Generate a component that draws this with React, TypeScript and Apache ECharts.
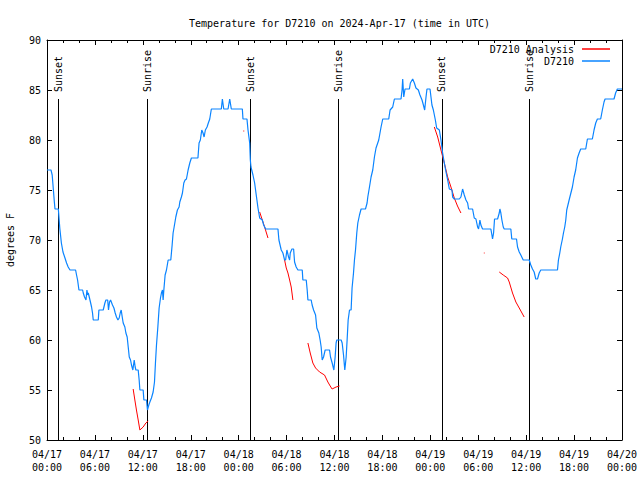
import React, { useEffect, useRef } from 'react';
import * as echarts from 'echarts';

// ---- data (hours since 2024-04-17 00:00 UTC, degrees F) ----
const stationTemps: [number, number][] = [
  [0, 77], [0.5, 77], [0.65, 76.5], [0.8, 75], [0.92, 73.8], [1.0, 73.1], [1.42, 73.1], [1.6, 71.2], [1.8, 69.7],
  [2.0, 68.8], [2.25, 68.2], [2.45, 67.7], [2.65, 67.3], [2.88, 67], [3.58, 67], [3.7, 66.5], [3.83, 66], [4.0, 65],
  [4.46, 65], [4.54, 64.7], [4.7, 64.3], [4.88, 64], [5.0, 65], [5.1, 64.5], [5.17, 64.7], [5.38, 64], [5.58, 63.3],
  [5.7, 62.7], [5.79, 62], [6.42, 62], [6.5, 63], [7.04, 63], [7.25, 63.7], [7.38, 64], [7.6, 64], [7.7, 63],
  [7.83, 63.8], [7.96, 64], [8.2, 63.5], [8.38, 63.2], [8.54, 62.7], [8.7, 62.3], [8.88, 62], [9.04, 62.2],
  [9.17, 62.7], [9.29, 63], [9.42, 62.3], [9.54, 61.7], [9.75, 61.3], [9.88, 60.7], [10.04, 60.3], [10.17, 59.3],
  [10.3, 58.3], [10.46, 58], [10.58, 57.5], [10.75, 57], [10.92, 58], [11.04, 57.3], [11.13, 57], [11.42, 57],
  [11.54, 56], [11.63, 55], [12.04, 55], [12.13, 54], [12.46, 54], [12.58, 53], [12.75, 53.5], [12.88, 53.8],
  [13.08, 54.2], [13.29, 54.8], [13.46, 55.8], [13.58, 57.7], [13.71, 59.5], [13.88, 61.3], [14.04, 63.2],
  [14.21, 64.2], [14.33, 64.7], [14.46, 65], [14.54, 64], [14.63, 65], [14.79, 66.5], [14.96, 67], [15.17, 68],
  [15.5, 68], [15.67, 69.5], [15.79, 70.7], [15.92, 71.3], [16.13, 72.3], [16.33, 73], [16.54, 73.3], [16.63, 73.8],
  [16.83, 74.3], [16.96, 74.7], [17.13, 75.7], [17.29, 76], [17.46, 76.1], [17.67, 77], [17.88, 77.7], [18.08, 78.2],
  [18.9, 78.2], [19.04, 79.7], [19.2, 80], [19.38, 81], [19.54, 80.7], [19.67, 80.3], [19.83, 81], [20.04, 81.3],
  [20.2, 81.7], [20.38, 82.1], [20.58, 83.1], [21.83, 83.1], [21.96, 84.1], [22.13, 83.1], [22.67, 83.1],
  [22.88, 84.1], [23.08, 83.1], [24.46, 83.1], [24.54, 82.1], [25.04, 82.1], [25.17, 81], [25.38, 79.7],
  [25.46, 78], [25.54, 77.3], [25.79, 76.5], [26.0, 75.7], [26.2, 74.5], [26.42, 73.2], [26.63, 72.2], [26.96, 72],
  [27.13, 71.5], [27.38, 71.1], [28.92, 71.1], [29.04, 70], [29.33, 69], [29.54, 68.7], [29.75, 68], [29.88, 68],
  [30.04, 69], [30.25, 68.3], [30.38, 68], [30.46, 68.7], [30.67, 69.1], [30.88, 69.1], [31.0, 67.8], [31.2, 67.3],
  [31.42, 67], [31.96, 67], [32.04, 66], [32.46, 66], [32.58, 65], [32.67, 64], [33.08, 64], [33.2, 63.5],
  [33.38, 63], [33.63, 62.5], [33.79, 61.2], [34.04, 60.7], [34.2, 60], [34.33, 59.3], [34.46, 58], [34.63, 58.3],
  [34.83, 59], [35.38, 59], [35.5, 58.3], [35.71, 57.7], [35.92, 57], [36.08, 58.3], [36.2, 59.7], [36.29, 60],
  [36.83, 60], [36.96, 59.7], [37.13, 58.5], [37.29, 57], [37.46, 58.3], [37.58, 60], [37.71, 62], [37.88, 63],
  [38.08, 63], [38.2, 65.2], [38.38, 66.7], [38.5, 68], [38.63, 69], [38.79, 70.7], [38.92, 71.7], [39.13, 72.5],
  [39.33, 73.1], [39.88, 73.1], [40.08, 73.7], [40.17, 74.3], [40.38, 75.3], [40.58, 76.3], [40.79, 77], [41.0, 78.3],
  [41.2, 79.2], [41.54, 80], [41.83, 81.3], [42.04, 82.1], [42.79, 82.1], [42.96, 83], [43.29, 83.3], [43.5, 84.1],
  [44.33, 84.1], [44.46, 85], [44.54, 86.1], [44.67, 84.3], [44.83, 85.1], [45.38, 85.1], [45.5, 85.7],
  [45.79, 86.1], [46.0, 85.7], [46.2, 85.2], [46.5, 85], [46.7, 84.5], [46.96, 84], [47.13, 83.5], [47.29, 83],
  [47.46, 84.3], [47.58, 85.1], [47.96, 85.1], [48.08, 84.3], [48.2, 83.5], [48.38, 83], [48.63, 82], [48.79, 81.2],
  [49.13, 81], [49.33, 80], [49.54, 78.7], [49.75, 77.7], [49.96, 76.8], [50.17, 76], [50.38, 75.1], [50.71, 75],
  [50.79, 74.3], [51.0, 74.1], [51.63, 74.1], [51.83, 74.3], [52.04, 75.1], [52.25, 74.5], [52.46, 74], [52.67, 73.7],
  [52.79, 73.1], [53.29, 73.1], [53.5, 72.2], [53.71, 72.1], [53.92, 71.3], [54.04, 71.1], [54.21, 72], [54.33, 71.5],
  [54.54, 71.1], [55.58, 71.1], [55.71, 70.5], [55.79, 70.1], [55.92, 70.7], [56.04, 72.1], [56.42, 72.1],
  [56.63, 72.7], [56.71, 73.1], [56.83, 72.7], [56.96, 72], [57.13, 71.3], [57.25, 71.1], [58.08, 71.1], [58.2, 70.1],
  [58.79, 70.1], [58.92, 69.3], [59.13, 68.8], [59.33, 68.5], [59.63, 68], [60.38, 68], [60.58, 67.5], [60.79, 67.1],
  [61.0, 66.8], [61.2, 66.1], [61.42, 66.1], [61.63, 66.7], [61.83, 67], [63.92, 67], [64.04, 68], [64.21, 68.7],
  [64.33, 69.3], [64.54, 70.1], [64.67, 70.7], [64.83, 71.3], [64.96, 72], [65.08, 73], [65.38, 74], [65.6, 74.7],
  [65.79, 75.3], [66.0, 76.3], [66.2, 77], [66.42, 78.2], [66.63, 78.7], [66.83, 79.1], [67.46, 79.1], [67.67, 80.1],
  [68.29, 80.1], [68.5, 81], [68.71, 81.7], [68.92, 82.1], [69.33, 82.1], [69.54, 83], [69.75, 83.8], [69.88, 84.1],
  [71.0, 84.1], [71.2, 84.7], [71.42, 85.1], [72, 85.1],
];

const analysisSegments: [number, number][][] = [
  [[10.79, 55.1], [11.0, 54], [11.2, 53], [11.42, 52], [11.63, 51], [12.04, 51.3], [12.38, 51.7], [12.67, 51.9]],
  [[24.58, 80.9], [24.7, 80.9]],
  [[26.63, 72.8], [26.96, 72], [27.25, 71.3], [27.67, 70.2]],
  [[29.75, 68], [29.96, 67.2], [30.17, 66.7], [30.38, 66], [30.58, 65.3], [30.79, 64]],
  [[32.67, 59.7], [32.96, 58.7], [33.29, 57.7], [33.63, 57.2], [34.13, 56.8], [34.75, 56.5], [35.17, 55.8],
    [35.46, 55.4], [35.7, 55.1], [36.2, 55.3], [36.63, 55.4]],
  [[48.5, 81.3], [48.92, 80.3], [49.33, 79], [49.75, 77.7], [50.17, 76.3], [50.58, 75.3], [51.0, 74.2],
    [51.4, 73.4], [51.83, 72.7]],
  [[54.7, 68.7], [54.8, 68.7]],
  [[56.63, 66.8], [57.13, 66.5], [57.67, 66.2], [57.88, 65.8], [58.29, 64.7], [58.71, 63.8], [59.13, 63.2], [59.75, 62.3]],
];

const sunEvents: { name: string; hour: number }[] = [
  { name: 'Sunset', hour: 1.43 },
  { name: 'Sunrise', hour: 12.55 },
  { name: 'Sunset', hour: 25.45 },
  { name: 'Sunrise', hour: 36.45 },
  { name: 'Sunset', hour: 49.45 },
  { name: 'Sunrise', hour: 60.42 },
];

const TITLE = 'Temperature for D7210 on 2024-Apr-17 (time in UTC)';
const SERIES_STATION = 'D7210';
const SERIES_ANALYSIS = 'D7210 Analysis';

// ---- styles ----
const FONT = 'DejaVu Sans Mono';
const BLUE = '#0a84ff';
const RED = '#ff0000';
const SUN_LINE_TOP = 84.1;
const SUN_LABEL_START = 84.8;

const pad2 = (n: number) => String(n).padStart(2, '0');
const fmtX = (v: number) => {
  const day = 17 + Math.floor(v / 24);
  const hh = Math.round(v % 24);
  return `04/${pad2(day)}\n${pad2(hh)}:00`;
};

export default function App() {
  const ref = useRef<HTMLDivElement>(null);
  useEffect(() => {
    if (!ref.current) return;
    const chart = echarts.init(ref.current, null, { renderer: 'svg' });
    const axisLine = { show: true, onZero: false, lineStyle: { color: '#000', width: 1 } };
    const tick = { show: true, inside: true, length: 5, lineStyle: { color: '#000', width: 1 } };
    const minor = { show: true, splitNumber: 3, length: 3, lineStyle: { color: '#000', width: 1 } };
    const labelFont = { fontFamily: FONT, fontSize: 10, color: '#000' };
    const xBase = {
      type: 'value', min: 0, max: 72, interval: 6,
      axisLine, axisTick: tick, minorTick: minor,
      splitLine: { show: false }, minorSplitLine: { show: false },
    };
    const yBase = {
      type: 'value', min: 50, max: 90, interval: 5,
      axisLine, axisTick: tick, splitLine: { show: false },
    };
    const option: any = {
      animation: false,
      backgroundColor: '#fff',
      title: {
        text: TITLE, left: 184, top: 13,
        textStyle: { ...labelFont, fontWeight: 'normal' },
      },
      legend: [
        {
          data: [SERIES_ANALYSIS], right: 30, top: 44, padding: 0, align: 'right', orient: 'vertical',
          icon: 'rect', itemWidth: 28, itemHeight: 1.5, selectedMode: false,
          textStyle: { ...labelFont, padding: [0, 3, 0, 0] },
        },
        {
          data: [SERIES_STATION], right: 30, top: 56, padding: 0, align: 'right', orient: 'vertical',
          icon: 'rect', itemWidth: 28, itemHeight: 1.5, selectedMode: false,
          textStyle: { ...labelFont, padding: [0, 3, 0, 0] },
        },
      ],
      grid: { left: 47, right: 18, top: 40, bottom: 40, containLabel: false, outerBoundsMode: 'none' },
      xAxis: [
        { ...xBase, position: 'bottom', axisLabel: { ...labelFont, formatter: fmtX, margin: 8, lineHeight: 13 } },
        { ...xBase, position: 'top', axisLabel: { show: false } },
      ],
      yAxis: [
        {
          ...yBase, position: 'left', axisLabel: { ...labelFont, margin: 6 },
          name: 'degrees F', nameLocation: 'middle', nameGap: 32, nameTextStyle: labelFont,
        },
        { ...yBase, position: 'right', axisLabel: { show: false } },
      ],
      series: [
        ...analysisSegments.map((seg) => ({
          type: 'line', name: SERIES_ANALYSIS, data: seg, symbol: 'none', showSymbol: false,
          lineStyle: { color: RED, width: 1 }, itemStyle: { color: RED }, z: 2, silent: true,
        })),
        {
          type: 'line', name: SERIES_STATION, data: stationTemps, symbol: 'none', showSymbol: false,
          lineStyle: { color: BLUE, width: 1.2 }, itemStyle: { color: BLUE }, z: 3, silent: true,
          markLine: {
            z: 1, silent: true, symbol: ['none', 'none'], animation: false,
            label: { show: false },
            emphasis: { disabled: true },
            lineStyle: { color: '#000', width: 1, type: 'solid' },
            data: sunEvents.flatMap((ev) => [
              [{ coord: [ev.hour, 50] }, { coord: [ev.hour, SUN_LINE_TOP] }],
              [
                {
                  coord: [ev.hour, SUN_LABEL_START],
                  lineStyle: { color: 'rgba(0,0,0,0)', width: 0 },
                  label: { show: true, formatter: ev.name, position: 'insideStart', distance: 0, ...labelFont },
                },
                { coord: [ev.hour, 90] },
              ],
            ]),
          },
        },
      ],
    };
    chart.setOption(option);
    return () => chart.dispose();
  }, []);
  return <div ref={ref} style={{ position: 'absolute', left: 0, top: 0, width: 640, height: 480 }} />;
}
